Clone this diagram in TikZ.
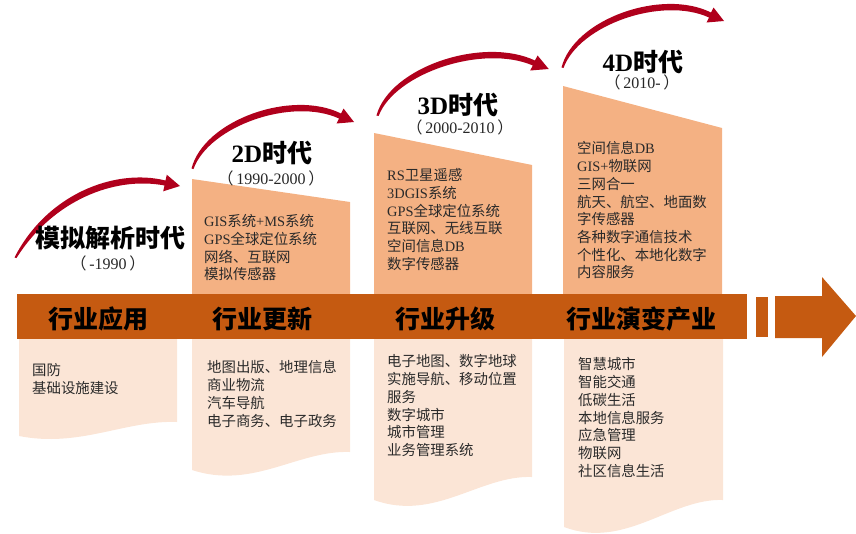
\documentclass[tikz,border=0pt]{standalone}
\usepackage{fontspec}
\setmainfont{Liberation Serif}
\newfontfamily\cjk{Noto Sans CJK SC}
\newcommand\lat[1]{{\rmfamily #1}}
\definecolor{bandc}{HTML}{C55A11}
\definecolor{upperc}{HTML}{F4B183}
\definecolor{lowerc}{HTML}{FBE5D6}
\definecolor{arrowred}{HTML}{B0001C}
\definecolor{bodytext}{HTML}{2A2A2A}
\begin{document}
\begin{tikzpicture}[x=1pt,y=-1pt,
  bodytxt/.style={anchor=north west,align=left,inner sep=0pt,text=bodytext,
    font=\cjk\fontsize{14.4}{17.7}\selectfont},
  bandlbl/.style={inner sep=0pt,text=black,font=\cjk\bfseries\fontsize{25}{30}\selectfont},
  eratitle/.style={inner sep=0pt,text=black,text height=18pt,text depth=3pt,
    font=\cjk\bfseries\fontsize{25}{30}\selectfont},
  erayear/.style={inner sep=0pt,text=black!85,text height=12pt,text depth=3pt,
    font=\cjk\fontsize{16}{19}\selectfont},
  crescB/.pic={\fill[arrowred] (-0.5,0.5) .. controls (12,-48) and (100,-79) .. (149,-54.5)
      -- (151.5,-59.5) -- (162,-46) -- (144.5,-44.5) -- (147,-49.5)
      .. controls (100,-71) and (17,-42) .. (1.5,1) -- cycle;},
  crescA/.pic={\fill[arrowred] (-0.5,0.5) .. controls (32,-63) and (100,-89) .. (150.5,-76.5)
      -- (151.8,-82.3) -- (165,-71) -- (148.2,-65.7) -- (149.5,-71.5)
      .. controls (100,-81) and (38,-57) .. (1.5,1) -- cycle;}
]
\useasboundingbox (0,0) rectangle (856,533);

% lower boxes
\fill[lowerc] (19,330) -- (177,330) -- (177,422) .. controls (125,420) and (80,448) .. (19,436) -- cycle;
\fill[lowerc] (192,330) -- (350,330) -- (350,452) .. controls (298,450) and (253,490) .. (192,470) -- cycle;
\fill[lowerc] (374,330) -- (532,330) -- (532,477) .. controls (480,475) and (435,522) .. (374,500) -- cycle;
\fill[lowerc] (564,330) -- (723,330) -- (723,500) .. controls (671,498) and (625,550) .. (564,527) -- cycle;

% upper boxes
\fill[upperc] (192,179) -- (350,202) -- (350,300) -- (192,300) -- cycle;
\fill[upperc] (374,133) -- (532,165) -- (532,300) -- (374,300) -- cycle;
\fill[upperc] (563,86) -- (722,128) -- (722,300) -- (563,300) -- cycle;

% band and arrow
\fill[bandc] (17,294) rectangle (747,339);
\fill[bandc] (756,297) rectangle (768,337);
\fill[bandc] (775,296) -- (822,296) -- (822,277) -- (856,316) -- (822,357) -- (822,338) -- (775,338) -- cycle;

% curved arrows
\pic at (15,257) {crescA};
\pic at (192,168) {crescB};
\pic[xscale=1.06] at (377,115) {crescB};
\pic at (562,67) {crescB};

% era titles
\node[eratitle] (t1) at (110,240) {模拟解析时代};
\node[erayear] (y1) at (108,264.5) {（\lat{\,-1990\,}）};
\node[eratitle] (t2) at (272,155) {\lat{\bfseries 2D}时代};
\node[erayear] (y2) at (271,179.5) {（\lat{\,1990-2000\,}）};
\node[eratitle] (t3) at (458,107) {\lat{\bfseries 3D}时代};
\node[erayear] (y3) at (460,128.5) {（\lat{\,2000-2010\,}）};
\node[eratitle] (t4) at (643,63.5) {\lat{\bfseries 4D}时代};
\node[erayear] (y4) at (642,83.5) {（\lat{\,2010-\,}）};

% band labels
\node[bandlbl] (b1) at (98,319) {行业应用};
\node[bandlbl] (b2) at (262,319) {行业更新};
\node[bandlbl] (b3) at (445,319) {行业升级};
\node[bandlbl] (b4) at (641,319) {行业演变产业};

% upper texts
\node[bodytxt] (u2) at (204,214.5) {\lat{GIS}系统\lat{+MS}系统\\\lat{GPS}全球定位系统\\网络、互联网\\模拟传感器};
\node[bodytxt] (u3) at (387,168.5) {\lat{RS}卫星遥感\\\lat{3DGIS}系统\\\lat{GPS}全球定位系统\\互联网、无线互联\\空间信息\lat{DB}\\数字传感器};
\node[bodytxt] (u4) at (577,141.5) {空间信息\lat{DB}\\\lat{GIS+}物联网\\三网合一\\航天、航空、地面数\\字传感器\\各种数字通信技术\\个性化、本地化数字\\内容服务};

% lower texts
\node[bodytxt] (l1) at (32,363.5) {国防\\基础设施建设};
\node[bodytxt] (l2) at (207,360.5) {地图出版、地理信息\\商业物流\\汽车导航\\电子商务、电子政务};
\node[bodytxt] (l3) at (387,354.5) {电子地图、数字地球\\实施导航、移动位置\\服务\\数字城市\\城市管理\\业务管理系统};
\node[bodytxt] (l4) at (578,357.5) {智慧城市\\智能交通\\低碳生活\\本地信息服务\\应急管理\\物联网\\社区信息生活};
\end{tikzpicture}
\end{document}
